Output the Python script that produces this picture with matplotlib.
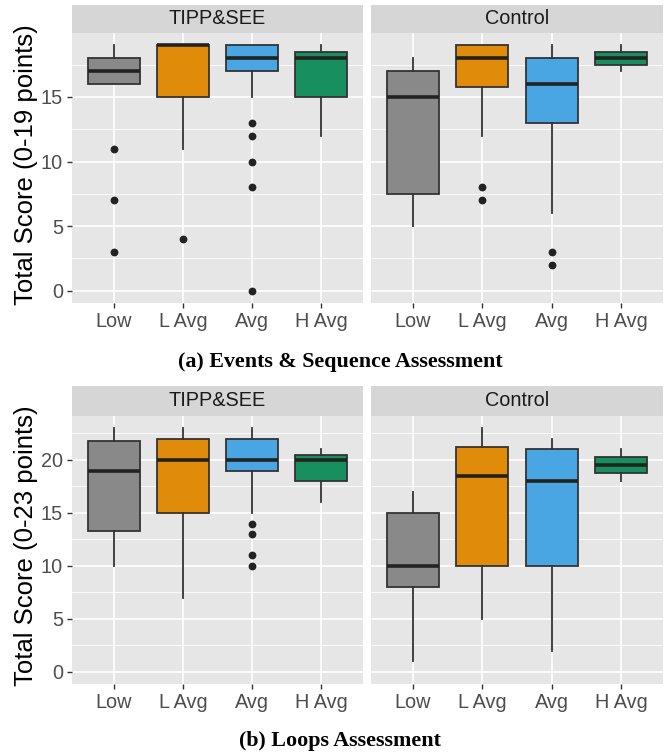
import matplotlib
matplotlib.use("Agg")
import matplotlib.pyplot as plt

# --- data ----------------------------------------------------------------
groups = ["Low", "L Avg", "Avg", "H Avg"]
fills = ["#898989", "#E08C0A", "#4AA6E3", "#178F5F"]

# rows: [whisker low, q1, median, q3, whisker high]
events_tipp = [[16, 16, 17, 18, 19],
               [11, 15, 19, 19, 19],
               [15, 17, 18, 19, 19],
               [12, 15, 18, 18.5, 19]]
events_tipp_out = [[11, 7, 3], [4], [13, 12, 10, 8, 0], []]

events_ctrl = [[5, 7.5, 15, 17, 18],
               [12, 15.75, 18, 19, 19],
               [6, 13, 16, 18, 19],
               [17, 17.5, 18, 18.5, 19]]
events_ctrl_out = [[], [8, 7], [3, 2], []]

loops_tipp = [[10, 13.25, 19, 21.75, 23],
              [7, 15, 20, 22, 23],
              [15, 19, 20, 22, 23],
              [16, 18, 20, 20.5, 21]]
loops_tipp_out = [[], [], [14, 13, 11, 10], []]

loops_ctrl = [[1, 8, 10, 15, 17],
              [5, 10, 18.5, 21.25, 23],
              [2, 10, 18, 21, 22],
              [18, 18.75, 19.5, 20.25, 21]]
loops_ctrl_out = [[], [], [], []]

facets = ["TIPP&SEE", "Control"]

W, H = 664, 755
plt.rcParams["font.family"] = ["Liberation Sans", "DejaVu Sans"]
fig = plt.figure(figsize=(W / 100, H / 100), dpi=100, facecolor="white")


def px_axes(x0, y0, x1, y1):
    return fig.add_axes([x0 / W, 1 - y1 / H, (x1 - x0) / W, (y1 - y0) / H])


def draw_panel(ax, rows, outs, ymax, major, minor, show_y):
    stats = []
    for name, r, o in zip(groups, rows, outs):
        stats.append(dict(label=name, whislo=r[0], q1=r[1], med=r[2],
                          q3=r[3], whishi=r[4], fliers=o))
    parts = ax.bxp(stats, positions=range(1, 5), widths=0.75, patch_artist=True,
                   showcaps=False,
                   boxprops=dict(edgecolor="#333333", linewidth=1.3),
                   medianprops=dict(color="#222222", linewidth=2.6),
                   whiskerprops=dict(color="#333333", linewidth=1.3),
                   flierprops=dict(marker="o", markersize=4.6,
                                   markerfacecolor="#222222",
                                   markeredgecolor="#222222"))
    for box, c in zip(parts["boxes"], fills):
        box.set_facecolor(c)
    ax.set_facecolor("#E6E6E6")
    ax.set_xlim(0.4, 4.6)
    pad = ymax * 0.05
    ax.set_ylim(-pad, ymax + pad)
    ax.set_yticks(major)
    ax.set_yticks(minor, minor=True)
    ax.set_xticks(range(1, 5))
    ax.set_xticklabels(groups)
    ax.grid(which="major", color="white", linewidth=1.2)
    ax.grid(which="minor", axis="y", color="white", linewidth=0.6)
    ax.set_axisbelow(True)
    for s in ax.spines.values():
        s.set_visible(False)
    ax.tick_params(which="major", colors="#333333", length=3.5, width=1,
                   labelsize=14.3, labelcolor="#4D4D4D", pad=3)
    ax.tick_params(which="minor", length=0)
    if not show_y:
        ax.tick_params(axis="y", left=False, labelleft=False)


def draw_strip(x0, y0, x1, y1, label):
    s = px_axes(x0, y0, x1, y1)
    s.set_facecolor("#D6D6D6")
    s.set_xticks([])
    s.set_yticks([])
    for sp in s.spines.values():
        sp.set_visible(False)
    s.text(0.5, 0.5, label, ha="center", va="center", fontsize=14.3,
           color="#1A1A1A", transform=s.transAxes)


# ---- (a) events & sequence ----
top = (33, 303)
ax1 = px_axes(72, top[0], 363, top[1])
draw_panel(ax1, events_tipp, events_tipp_out, 19, [0, 5, 10, 15],
           [2.5, 7.5, 12.5, 17.5], True)
ax2 = px_axes(371, top[0], 663, top[1])
draw_panel(ax2, events_ctrl, events_ctrl_out, 19, [0, 5, 10, 15],
           [2.5, 7.5, 12.5, 17.5], False)
draw_strip(72, 5, 363, top[0], facets[0])
draw_strip(371, 5, 663, top[0], facets[1])
fig.text(26 / W, 1 - 165 / H, "Total Score (0-19 points)", rotation=90,
         ha="center", va="center", fontsize=18.5, color="black")
fig.text(340 / W, 1 - 362 / H, "(a) Events & Sequence Assessment",
         ha="center", va="center", fontsize=15.8, fontweight="bold",
         family="Liberation Serif")

# ---- (b) loops ----
bot = (416, 684)
ax3 = px_axes(72, bot[0], 363, bot[1])
draw_panel(ax3, loops_tipp, loops_tipp_out, 23, [0, 5, 10, 15, 20],
           [2.5, 7.5, 12.5, 17.5, 22.5], True)
ax4 = px_axes(371, bot[0], 663, bot[1])
draw_panel(ax4, loops_ctrl, loops_ctrl_out, 23, [0, 5, 10, 15, 20],
           [2.5, 7.5, 12.5, 17.5, 22.5], False)
draw_strip(72, 386, 363, bot[0], facets[0])
draw_strip(371, 386, 663, bot[0], facets[1])
fig.text(26 / W, 1 - 546 / H, "Total Score (0-23 points)", rotation=90,
         ha="center", va="center", fontsize=18.5, color="black")
fig.text(340 / W, 1 - 741 / H, "(b) Loops Assessment",
         ha="center", va="center", fontsize=15.8, fontweight="bold",
         family="Liberation Serif")

fig.savefig("out.png", dpi=100, facecolor="white")
